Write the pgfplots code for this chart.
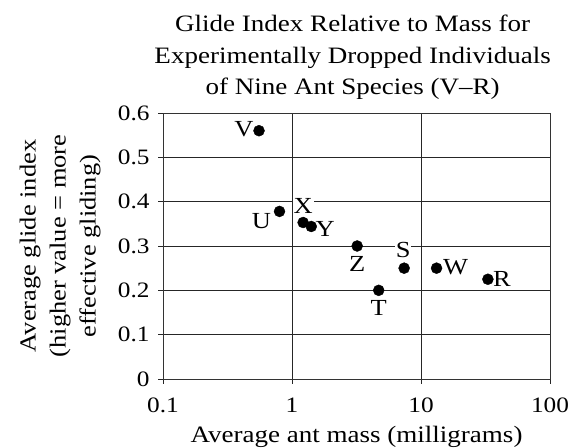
\documentclass[border=0pt]{standalone}
\usepackage{fontspec}
\setmainfont{Liberation Serif}[FakeStretch=1.15]
\usepackage{pgfplots}
\pgfplotsset{compat=1.18}
\begin{document}
\begin{tikzpicture}[x=1bp,y=1bp]
\path[use as bounding box] (-163,-69) rectangle (422,379);
\begin{axis}[
  at={(0,0)}, anchor=south west,
  scale only axis, width=387bp, height=266bp,
  xmode=log, xmin=0.1, xmax=100, ymin=0, ymax=0.6,
  xtick={0.1,1,10,100}, xticklabels={0.1,1,10,100},
  ytick={0,0.1,0.2,0.3,0.4,0.5,0.6},
  yticklabels={0,0.1,0.2,0.3,0.4,0.5,0.6},
  xminorticks=false, yminorticks=false,
  grid=major,
  major grid style={black!85, line width=0.6bp},
  axis line style={black!80, line width=0.9bp},
  tick style={black!85, line width=0.6bp},
  major tick length=5bp, tick align=outside, tick pos=left,
  tick label style={font=\fontsize{22bp}{26bp}\selectfont},
  xticklabel style={yshift=-10bp},
  yticklabel style={xshift=-5bp},
  clip=false,
]
\addplot[only marks, mark=*, mark size=5.5bp, mark options={fill=black, draw=black}] coordinates {
  (0.555,0.56) (0.80,0.378) (1.22,0.353) (1.41,0.344) (3.2,0.30)
  (4.7,0.20) (7.4,0.25) (13.2,0.25) (33,0.225)
};
\begin{scope}[every node/.style={font=\fontsize{23bp}{26bp}\selectfont, inner sep=1bp}]
\node[xshift=-15bp, yshift=2bp] at (axis cs:0.555,0.56) {V};
\node[xshift=-18bp, yshift=-10bp] at (axis cs:0.80,0.378) {U};
\node[fill=white, yshift=17bp] at (axis cs:1.22,0.353) {X};
\node[xshift=14bp, yshift=-2bp] at (axis cs:1.41,0.344) {Y};
\node[yshift=-18bp] at (axis cs:3.2,0.30) {Z};
\node[yshift=-18bp] at (axis cs:4.7,0.20) {T};
\node[fill=white, xshift=-1bp, yshift=18bp] at (axis cs:7.4,0.25) {S};
\node[xshift=19bp, yshift=1bp] at (axis cs:13.2,0.25) {W};
\node[xshift=14bp] at (axis cs:33,0.225) {R};
\end{scope}
\node[anchor=south, align=center, inner sep=0pt,
  font=\fontsize{23.5bp}{31.7bp}\selectfont]
  at (axis description cs:0.49,1.049)
  {Glide Index Relative to Mass for\\Experimentally Dropped Individuals\\of Nine Ant Species (V–R)};
\node[rotate=90, align=center, inner sep=0pt,
  font=\fontsize{23bp}{30bp}\selectfont]
  at (axis description cs:-0.266,0.5)
  {Average glide index\\(higher value = more\\effective gliding)};
\node[anchor=base, inner sep=0pt, font=\fontsize{23.5bp}{26bp}\selectfont]
  at (axis description cs:0.5,-0.2406) {Average ant mass (milligrams)};
\end{axis}
\end{tikzpicture}
\end{document}
